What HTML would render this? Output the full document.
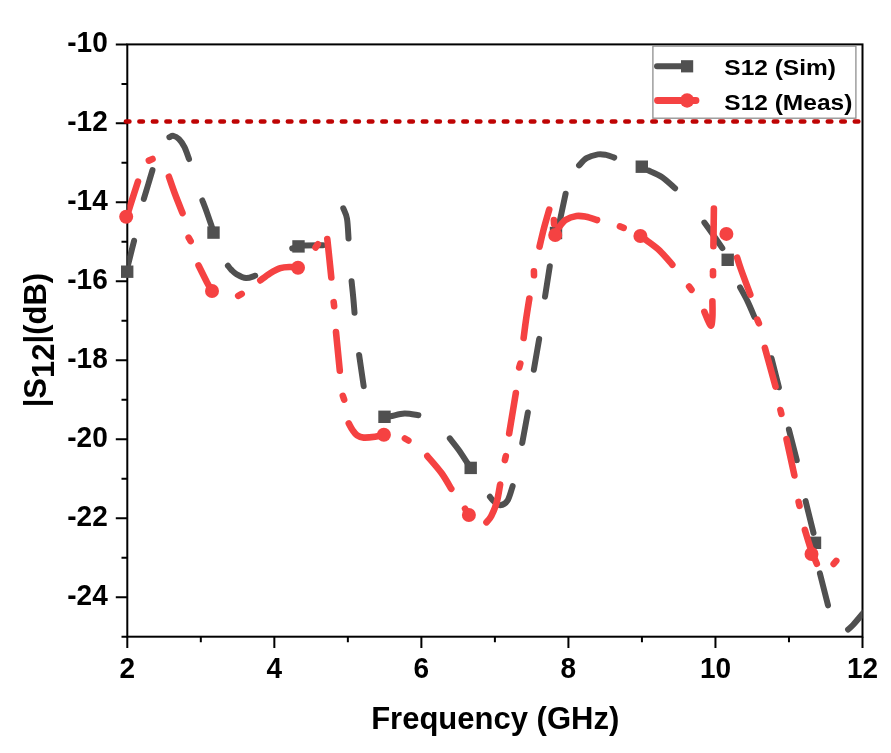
<!DOCTYPE html>
<html><head><meta charset="utf-8"><style>
html,body{margin:0;padding:0;background:#fff;width:891px;height:753px;overflow:hidden}
svg{display:block;filter:blur(0.45px)}
text{font-family:"Liberation Sans",sans-serif;font-weight:bold;fill:#000}
</style></head><body>
<svg width="891" height="753" viewBox="0 0 891 753">
<rect x="0" y="0" width="891" height="753" fill="#fff"/>

<defs><clipPath id="pc"><rect x="127.3" y="40.4" width="735.2" height="596.3000000000001"/></clipPath></defs>
<rect x="127.3" y="44.4" width="735.2" height="592.3" fill="none" stroke="#000" stroke-width="2"/>
<path d="M115.8 44.40H127.3M121.5 83.89H127.3M115.8 123.37H127.3M121.5 162.86H127.3M115.8 202.35H127.3M121.5 241.83H127.3M115.8 281.32H127.3M121.5 320.81H127.3M115.8 360.29H127.3M121.5 399.78H127.3M115.8 439.27H127.3M121.5 478.75H127.3M115.8 518.24H127.3M121.5 557.73H127.3M115.8 597.21H127.3M121.5 636.70H127.3M127.30 636.7V648.0M200.82 636.7V642.2M274.34 636.7V648.0M347.86 636.7V642.2M421.38 636.7V648.0M494.90 636.7V642.2M568.42 636.7V648.0M641.94 636.7V642.2M715.46 636.7V648.0M788.98 636.7V642.2M862.50 636.7V648.0" stroke="#000" stroke-width="2" fill="none"/>
<text transform="translate(107.7,52.3) scale(1,1.055)" font-size="28" text-anchor="end">-10</text>
<text transform="translate(107.7,131.3) scale(1,1.055)" font-size="28" text-anchor="end">-12</text>
<text transform="translate(107.7,210.2) scale(1,1.055)" font-size="28" text-anchor="end">-14</text>
<text transform="translate(107.7,289.2) scale(1,1.055)" font-size="28" text-anchor="end">-16</text>
<text transform="translate(107.7,368.2) scale(1,1.055)" font-size="28" text-anchor="end">-18</text>
<text transform="translate(107.7,447.2) scale(1,1.055)" font-size="28" text-anchor="end">-20</text>
<text transform="translate(107.7,526.1) scale(1,1.055)" font-size="28" text-anchor="end">-22</text>
<text transform="translate(107.7,605.1) scale(1,1.055)" font-size="28" text-anchor="end">-24</text>
<text transform="translate(127.3,678.1) scale(1,1.055)" font-size="28" text-anchor="middle">2</text>
<text transform="translate(274.3,678.1) scale(1,1.055)" font-size="28" text-anchor="middle">4</text>
<text transform="translate(421.4,678.1) scale(1,1.055)" font-size="28" text-anchor="middle">6</text>
<text transform="translate(568.4,678.1) scale(1,1.055)" font-size="28" text-anchor="middle">8</text>
<text transform="translate(715.5,678.1) scale(1,1.055)" font-size="28" text-anchor="middle">10</text>
<text transform="translate(862.5,678.1) scale(1,1.055)" font-size="28" text-anchor="middle">12</text>
<text x="495.2" y="729" font-size="31" text-anchor="middle">Frequency (GHz)</text>
<text transform="translate(45.9,407.3) rotate(-90)" font-size="31">|S<tspan dy="8.5">12</tspan><tspan dy="-8.5">|(dB)</tspan></text>
<path d="M125.85 121.6H860" stroke="#bf0404" stroke-width="4.5" stroke-linecap="round" stroke-dasharray="3.6 9.898" fill="none"/>
<g clip-path="url(#pc)" fill="none" stroke-linecap="round" stroke-linejoin="round">
<path d="M127.69 266.22C128.25 264.02 129.93 257.24 131.00 253.00C132.07 248.76 133.59 242.81 134.10 240.78" stroke="#505050" stroke-width="6.0"/>
<path d="M143.83 198.93C144.56 196.53 146.76 189.29 148.20 184.50C149.64 179.71 151.76 172.56 152.47 170.17" stroke="#505050" stroke-width="6.0"/>
<path d="M169.36 137.25C170.03 137.02 171.79 135.59 173.40 135.90C175.01 136.21 177.15 137.23 179.00 139.10C180.85 140.97 182.83 143.77 184.50 147.10C186.17 150.43 188.26 157.06 189.02 159.05" stroke="#505050" stroke-width="6.0"/>
<path d="M202.38 200.45C203.14 202.44 205.27 207.87 206.90 212.40C208.53 216.93 211.27 225.10 212.14 227.64" stroke="#505050" stroke-width="6.0"/>
<path d="M227.91 265.71C228.51 266.43 230.04 268.55 231.50 270.00C232.96 271.45 234.28 273.05 236.70 274.40C239.12 275.75 242.91 277.88 246.00 278.10C249.09 278.32 253.69 276.10 255.23 275.70" stroke="#505050" stroke-width="6.0"/>
<path d="M292.26 248.45C293.30 248.11 296.44 246.91 298.50 246.40C300.56 245.89 300.52 245.60 304.60 245.40C308.68 245.20 319.93 245.24 323.00 245.21" stroke="#505050" stroke-width="6.0"/>
<path d="M343.27 208.25C343.89 209.99 346.12 213.64 347.00 218.70C347.88 223.76 348.28 235.29 348.54 238.60" stroke="#505050" stroke-width="6.0"/>
<path d="M351.58 281.30C351.85 283.91 352.71 291.77 353.20 297.00C353.69 302.23 354.31 310.09 354.53 312.70" stroke="#505050" stroke-width="6.0"/>
<path d="M359.12 354.99L363.68 386.11" stroke="#505050" stroke-width="6.0"/>
<path d="M385.30 416.47C386.15 416.44 387.22 416.80 390.40 416.30C393.58 415.80 399.73 413.68 404.40 413.50C409.07 413.32 416.07 414.92 418.41 415.20" stroke="#505050" stroke-width="6.0"/>
<path d="M449.79 438.33C451.26 440.23 455.66 445.58 458.60 449.70C461.54 453.82 465.98 460.81 467.46 463.03" stroke="#505050" stroke-width="6.0"/>
<path d="M489.92 496.80C490.60 497.59 492.27 500.08 494.00 501.50C495.73 502.92 498.05 505.43 500.30 505.30C502.55 505.17 505.44 503.89 507.50 500.70C509.56 497.51 511.78 488.58 512.63 486.15" stroke="#505050" stroke-width="6.0"/>
<path d="M522.24 443.01L527.86 412.49" stroke="#505050" stroke-width="6.0"/>
<path d="M533.84 369.81L539.16 338.89" stroke="#505050" stroke-width="6.0"/>
<path d="M545.02 296.61L549.78 266.29" stroke="#505050" stroke-width="6.0"/>
<path d="M558.97 224.92L565.63 193.68" stroke="#505050" stroke-width="6.0"/>
<path d="M579.07 165.44C580.31 164.23 583.36 160.04 586.50 158.20C589.64 156.36 594.65 154.95 597.90 154.40C601.15 153.85 603.28 154.37 606.00 154.90C608.72 155.43 612.87 157.11 614.24 157.55" stroke="#505050" stroke-width="6.0"/>
<path d="M648.62 170.55C650.82 171.63 657.39 174.04 661.80 177.00C666.21 179.96 672.88 186.40 675.09 188.28" stroke="#505050" stroke-width="6.0"/>
<path d="M704.36 222.55C705.94 224.76 710.80 231.53 713.80 235.80C716.80 240.07 720.92 246.09 722.34 248.14" stroke="#505050" stroke-width="6.0"/>
<path d="M740.08 287.40C741.35 289.77 745.32 296.69 747.70 301.60C750.08 306.51 753.27 314.32 754.38 316.87" stroke="#505050" stroke-width="6.0"/>
<path d="M771.50 358.28L778.90 387.22" stroke="#505050" stroke-width="6.0"/>
<path d="M788.90 429.47L796.80 460.13" stroke="#505050" stroke-width="6.0"/>
<path d="M805.59 501.08L813.51 532.92" stroke="#505050" stroke-width="6.0"/>
<path d="M819.90 573.38L828.00 605.32" stroke="#505050" stroke-width="6.0"/>
<path d="M848.09 629.46C848.91 628.72 850.43 627.81 853.00 625.00C855.57 622.19 861.74 614.68 863.48 612.61" stroke="#505050" stroke-width="6.0"/>
</g>
<rect x="121.00" y="265.50" width="12.4" height="12.4" fill="#505050"/>
<rect x="207.30" y="226.40" width="12.4" height="12.4" fill="#505050"/>
<rect x="292.30" y="240.20" width="12.4" height="12.4" fill="#505050"/>
<rect x="378.30" y="410.60" width="12.4" height="12.4" fill="#505050"/>
<rect x="464.50" y="461.70" width="12.4" height="12.4" fill="#505050"/>
<rect x="549.80" y="226.80" width="12.4" height="12.4" fill="#505050"/>
<rect x="635.60" y="160.50" width="12.4" height="12.4" fill="#505050"/>
<rect x="721.50" y="253.60" width="12.4" height="12.4" fill="#505050"/>
<rect x="808.80" y="536.60" width="12.4" height="12.4" fill="#505050"/>
<g clip-path="url(#pc)" fill="none" stroke-linecap="round" stroke-linejoin="round">
<path d="M127.30 215.05C128.08 212.54 130.22 205.58 132.00 200.00C133.78 194.42 136.99 184.63 137.99 181.55" stroke="#f54242" stroke-width="6.6"/>
<path d="M148.87 160.61L152.53 158.99" stroke="#f54242" stroke-width="6.6"/>
<path d="M168.93 176.74C169.94 179.62 172.73 187.95 175.00 194.00C177.27 200.05 181.28 209.89 182.53 213.07" stroke="#f54242" stroke-width="6.6"/>
<path d="M188.65 237.67L190.65 241.13" stroke="#f54242" stroke-width="6.6"/>
<path d="M198.55 265.49C199.94 268.28 204.81 278.24 206.90 282.20C208.99 286.16 210.39 288.07 211.09 289.24" stroke="#f54242" stroke-width="6.6"/>
<path d="M238.21 295.84L241.69 293.86" stroke="#f54242" stroke-width="6.6"/>
<path d="M260.31 280.41C261.96 279.21 266.87 275.25 270.20 273.20C273.53 271.15 276.93 269.13 280.30 268.10C283.67 267.07 287.62 267.10 290.40 267.00C293.18 266.90 295.90 267.43 297.00 267.52" stroke="#f54242" stroke-width="6.6"/>
<path d="M315.54 247.53L317.86 244.27" stroke="#f54242" stroke-width="6.6"/>
<path d="M327.30 238.99C327.64 242.16 328.63 251.58 329.30 258.00C329.97 264.42 330.97 274.25 331.30 277.51" stroke="#f54242" stroke-width="6.6"/>
<path d="M333.66 302.16L334.14 306.14" stroke="#f54242" stroke-width="6.6"/>
<path d="M336.00 332.10L339.80 370.70" stroke="#f54242" stroke-width="6.6"/>
<path d="M342.84 395.81L344.16 399.59" stroke="#f54242" stroke-width="6.6"/>
<path d="M348.79 423.37C349.41 424.48 351.13 428.01 352.50 430.00C353.87 431.99 355.13 434.03 357.00 435.30C358.87 436.57 360.70 437.35 363.70 437.60C366.70 437.85 371.95 437.20 375.00 436.80C378.05 436.40 380.85 435.48 382.02 435.22" stroke="#f54242" stroke-width="6.6"/>
<path d="M404.92 438.49L408.38 440.51" stroke="#f54242" stroke-width="6.6"/>
<path d="M427.34 456.07C429.70 458.89 437.51 467.54 441.50 473.00C445.49 478.46 449.65 486.21 451.28 488.85" stroke="#f54242" stroke-width="6.6"/>
<path d="M465.00 508.60L465.60 509.80" stroke="#f54242" stroke-width="6.6"/>
<path d="M486.50 522.30C487.30 521.23 489.60 519.22 491.30 515.90C493.00 512.58 495.23 507.62 496.70 502.40C498.17 497.18 499.54 487.55 500.11 484.58" stroke="#f54242" stroke-width="6.6"/>
<path d="M504.91 460.05L505.79 456.15" stroke="#f54242" stroke-width="6.6"/>
<path d="M509.16 433.51L515.84 392.99" stroke="#f54242" stroke-width="6.6"/>
<path d="M519.19 367.47L520.31 363.63" stroke="#f54242" stroke-width="6.6"/>
<path d="M523.63 338.01C524.03 335.01 525.05 326.59 526.00 320.00C526.95 313.41 528.79 302.07 529.35 298.49" stroke="#f54242" stroke-width="6.6"/>
<path d="M533.91 271.25L533.99 275.25" stroke="#f54242" stroke-width="6.6"/>
<path d="M539.53 246.63C540.28 243.52 542.38 234.18 544.00 228.00C545.62 221.82 548.36 212.64 549.23 209.56" stroke="#f54242" stroke-width="6.6"/>
<path d="M553.85 220.10L554.05 224.10" stroke="#f54242" stroke-width="6.6"/>
<path d="M558.57 227.75C559.72 226.46 562.51 221.96 565.50 220.00C568.49 218.04 573.08 216.53 576.50 216.00C579.92 215.47 582.58 216.13 586.00 216.80C589.42 217.47 595.20 219.48 597.04 220.02" stroke="#f54242" stroke-width="6.6"/>
<path d="M619.93 226.39L623.67 227.81" stroke="#f54242" stroke-width="6.6"/>
<path d="M643.83 238.55C644.34 238.90 644.22 238.56 646.90 240.60C649.58 242.64 655.66 246.77 659.90 250.80C664.14 254.83 670.26 262.43 672.33 264.75" stroke="#f54242" stroke-width="6.6"/>
<path d="M689.10 286.60L691.50 289.80" stroke="#f54242" stroke-width="6.6"/>
<path d="M704.41 311.81C705.44 314.09 709.27 324.65 710.60 325.50C711.93 326.35 712.10 320.95 712.40 316.90C712.70 312.85 712.40 303.82 712.40 301.20" stroke="#f54242" stroke-width="6.6"/>
<path d="M713.00 271.30L713.00 275.30" stroke="#f54242" stroke-width="6.6"/>
<path d="M713.41 246.20L713.89 208.50" stroke="#f54242" stroke-width="6.6"/>
<path d="M737.21 257.75C737.87 259.79 739.01 263.85 741.20 270.00C743.39 276.15 748.83 290.55 750.35 294.66" stroke="#f54242" stroke-width="6.6"/>
<path d="M757.30 319.56L758.90 323.24" stroke="#f54242" stroke-width="6.6"/>
<path d="M764.87 347.86L775.53 386.54" stroke="#f54242" stroke-width="6.6"/>
<path d="M780.41 410.01L781.39 413.89" stroke="#f54242" stroke-width="6.6"/>
<path d="M786.51 439.18L794.39 475.42" stroke="#f54242" stroke-width="6.6"/>
<path d="M798.60 501.95L799.50 505.85" stroke="#f54242" stroke-width="6.6"/>
<path d="M804.90 529.96C805.86 533.08 808.71 543.06 810.70 548.70C812.69 554.34 815.80 561.26 816.82 563.77" stroke="#f54242" stroke-width="6.6"/>
<path d="M833.65 563.92L836.25 560.88" stroke="#f54242" stroke-width="6.6"/>
</g>
<circle cx="126.2" cy="216.8" r="7.0" fill="#f54242"/>
<circle cx="212" cy="291" r="7.0" fill="#f54242"/>
<circle cx="298" cy="267.8" r="7.0" fill="#f54242"/>
<circle cx="383.9" cy="434.8" r="7.0" fill="#f54242"/>
<circle cx="468.9" cy="515" r="7.0" fill="#f54242"/>
<circle cx="555.2" cy="235" r="7.0" fill="#f54242"/>
<circle cx="640.4" cy="236" r="7.0" fill="#f54242"/>
<circle cx="726.4" cy="233.9" r="7.0" fill="#f54242"/>
<circle cx="811.5" cy="554" r="7.0" fill="#f54242"/>
<rect x="652.9" y="46.1" width="203" height="72.1" fill="#fff" stroke="#8f8f8f" stroke-width="1.3"/>
<path d="M657 66.3H682" stroke="#505050" stroke-width="6" stroke-linecap="round"/>
<rect x="681" y="60.2" width="12.2" height="12.2" fill="#505050"/>
<path d="M657.5 100.5H696" stroke="#f54242" stroke-width="6.8" stroke-linecap="round"/>
<circle cx="687.1" cy="100.5" r="7.2" fill="#f54242"/>
<text transform="translate(724.3,75.4) scale(1.09,1)" font-size="22.5">S12 (Sim)</text>
<text transform="translate(724.3,109.6) scale(1.09,1)" font-size="22.5">S12 (Meas)</text>
</svg></body></html>
